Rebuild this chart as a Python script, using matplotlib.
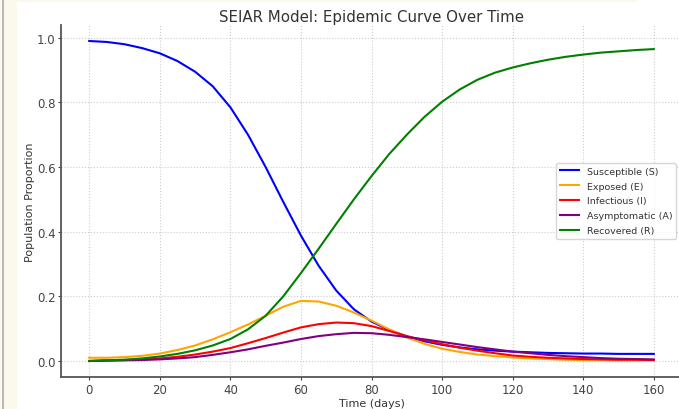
import matplotlib.pyplot as plt
from matplotlib.patches import Rectangle

# valores (cada 5 días)
dias = [0, 5, 10, 15, 20, 25, 30, 35, 40, 45, 50, 55, 60, 65, 70, 75, 80,
        85, 90, 95, 100, 105, 110, 115, 120, 125, 130, 135, 140, 145, 150, 155, 160]

susceptibles = [0.990, 0.987, 0.980, 0.968, 0.952, 0.928, 0.895, 0.850, 0.785, 0.700,
                0.600, 0.492, 0.388, 0.295, 0.218, 0.160, 0.122, 0.096, 0.076, 0.061,
                0.050, 0.042, 0.036, 0.032, 0.029, 0.027, 0.025, 0.024, 0.023, 0.023,
                0.022, 0.022, 0.022]
expuestos = [0.010, 0.010, 0.012, 0.016, 0.023, 0.034, 0.048, 0.067, 0.089, 0.113,
             0.140, 0.168, 0.186, 0.184, 0.171, 0.150, 0.125, 0.098, 0.073, 0.053,
             0.038, 0.028, 0.020, 0.015, 0.011, 0.008, 0.006, 0.004, 0.003, 0.003,
             0.002, 0.002, 0.002]
infecciosos = [0.000, 0.002, 0.003, 0.005, 0.008, 0.013, 0.020, 0.029, 0.040, 0.055,
               0.071, 0.088, 0.104, 0.114, 0.119, 0.117, 0.108, 0.093, 0.077, 0.064,
               0.052, 0.041, 0.032, 0.024, 0.017, 0.013, 0.010, 0.008, 0.006, 0.005,
               0.004, 0.004, 0.003]
asintomaticos = [0.000, 0.001, 0.002, 0.003, 0.005, 0.008, 0.012, 0.019, 0.027, 0.036,
                 0.047, 0.057, 0.068, 0.077, 0.083, 0.087, 0.086, 0.081, 0.074, 0.067,
                 0.059, 0.051, 0.043, 0.036, 0.029, 0.024, 0.019, 0.015, 0.012, 0.009,
                 0.007, 0.006, 0.005]
recuperados = [0.000, 0.002, 0.004, 0.008, 0.014, 0.022, 0.033, 0.048, 0.068, 0.098,
               0.140, 0.200, 0.272, 0.347, 0.424, 0.500, 0.572, 0.640, 0.700, 0.755,
               0.802, 0.840, 0.870, 0.892, 0.908, 0.921, 0.932, 0.941, 0.948, 0.954,
               0.958, 0.962, 0.965]

series = [
    (susceptibles, "Susceptible (S)", "blue"),
    (expuestos, "Exposed (E)", "orange"),
    (infecciosos, "Infectious (I)", "red"),
    (asintomaticos, "Asymptomatic (A)", "purple"),
    (recuperados, "Recovered (R)", "green"),
]

fig = plt.figure(figsize=(6.79, 4.10), dpi=100)

# franja de la captura original a la izquierda y arriba
fig.patches.append(Rectangle((0, 0), 17 / 679, 1, transform=fig.transFigure,
                             facecolor="#fdf8ec", edgecolor="none", zorder=0))
fig.patches.append(Rectangle((2 / 679, 0), 1.5 / 679, 1, transform=fig.transFigure,
                             facecolor="#b8b8b8", edgecolor="none", zorder=1))
fig.patches.append(Rectangle((17 / 679, 1 - 3 / 410), 620 / 679, 3 / 410,
                             transform=fig.transFigure,
                             facecolor="#fdf8ec", edgecolor="none", zorder=0))

ax = fig.add_axes([61 / 679, 32 / 410, 621 / 679, 352 / 410])

for valores, etiqueta, color in series:
    ax.plot(dias, valores, color=color, label=etiqueta, linewidth=1.5)

ax.set_xlim(-8, 168)
ax.set_ylim(-0.0495, 1.0395)
ax.set_xticks(range(0, 161, 20))
ax.set_yticks([0.0, 0.2, 0.4, 0.6, 0.8, 1.0])

ax.grid(True, linestyle=":", color="#cccccc", linewidth=0.8)
for lado in ["top", "right"]:
    ax.spines[lado].set_visible(False)
for lado in ["left", "bottom"]:
    ax.spines[lado].set_color("#555555")
    ax.spines[lado].set_linewidth(1.3)
ax.tick_params(colors="#444444", labelsize=8.5, length=2.5, width=0.8, pad=1.5)

ax.set_xlabel("Time (days)", fontsize=8, color="#333333", labelpad=2)
ax.set_ylabel("Population Proportion", fontsize=8, color="#333333", labelpad=1)
ax.set_title("SEIAR Model: Epidemic Curve Over Time", fontsize=10.8, color="#333333", pad=3)

leg = ax.legend(loc="center right", fontsize=6.8, frameon=True, labelspacing=0.62,
                bbox_to_anchor=(0.998, 0.5))
leg.get_frame().set_edgecolor("#cccccc")
for t in leg.get_texts():
    t.set_color("#333333")

fig.savefig("out.png", dpi=100)
plt.close(fig)
